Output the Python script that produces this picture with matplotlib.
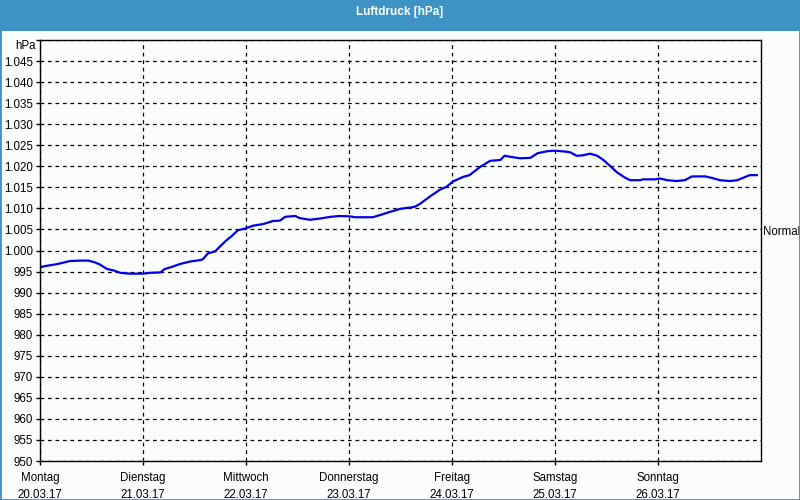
import matplotlib
matplotlib.use("Agg")
import matplotlib.pyplot as plt
from matplotlib.patches import Rectangle

# Luftdruck Woche 20.03.17 - 26.03.17, x in Tagen ab Montag 0:00
days = ["Montag", "Dienstag", "Mittwoch", "Donnerstag", "Freitag", "Samstag", "Sonntag"]
dates = ["20.03.17", "21.03.17", "22.03.17", "23.03.17", "24.03.17", "25.03.17", "26.03.17"]

t = [0.00, 0.05, 0.15, 0.19, 0.29, 0.39, 0.47, 0.53, 0.58, 0.65, 0.71, 0.78, 0.87,
     1.00, 1.07, 1.17, 1.21, 1.28, 1.36, 1.46, 1.55, 1.58, 1.63, 1.70, 1.75, 1.80,
     1.86, 1.92, 1.99, 2.07, 2.17, 2.26, 2.33, 2.38, 2.48, 2.52, 2.62, 2.72, 2.82,
     2.91, 3.01, 3.06, 3.23, 3.30, 3.40, 3.50, 3.59, 3.64, 3.69, 3.79, 3.88, 3.95,
     4.01, 4.11, 4.17, 4.27, 4.37, 4.47, 4.51, 4.58, 4.66, 4.76, 4.83, 4.93, 5.00,
     5.10, 5.15, 5.21, 5.27, 5.34, 5.41, 5.47, 5.53, 5.60, 5.68, 5.73, 5.83, 5.85,
     5.97, 6.02, 6.09, 6.18, 6.26, 6.33, 6.46, 6.53, 6.60, 6.70, 6.77, 6.83, 6.89, 6.96]
p = [996.0, 996.3, 996.7, 996.9, 997.5, 997.6, 997.6, 997.2, 996.7, 995.6, 995.3, 994.7, 994.5,
     994.5, 994.7, 994.8, 995.6, 996.1, 996.8, 997.4, 997.7, 997.9, 999.3, 999.8, 1001.0, 1002.2,
     1003.4, 1004.8, 1005.2, 1005.9, 1006.3, 1007.0, 1007.1, 1008.0, 1008.2, 1007.7, 1007.3, 1007.6, 1008.0,
     1008.2, 1008.1, 1007.9, 1007.9, 1008.4, 1009.2, 1009.9, 1010.2, 1010.4, 1011.1, 1012.9, 1014.4, 1015.2,
     1016.4, 1017.5, 1017.9, 1019.8, 1021.3, 1021.5, 1022.5, 1022.2, 1021.9, 1022.0, 1023.1, 1023.6, 1023.7,
     1023.5, 1023.3, 1022.5, 1022.6, 1023.0, 1022.5, 1021.5, 1020.2, 1018.6, 1017.3, 1016.7, 1016.7, 1016.9,
     1016.9, 1017.1, 1016.7, 1016.5, 1016.7, 1017.6, 1017.6, 1017.2, 1016.7, 1016.5, 1016.7, 1017.3, 1017.9, 1017.9]

yticks = list(range(950, 1050, 5))
normal = 1005

bar_blue = "#3c93c4"
bg = "#fafdfb"

plt.rcParams["font.family"] = "Liberation Sans"
fig = plt.figure(figsize=(8, 5), dpi=100, facecolor=bg)

# Titelleiste und Rahmen
fig.patches.append(Rectangle((0, 1 - 31 / 500), 1, 31 / 500, transform=fig.transFigure,
                             facecolor=bar_blue, edgecolor="none", zorder=0))
fig.patches.append(Rectangle((0, 0), 1, 1, transform=fig.transFigure, fill=False,
                             edgecolor=bar_blue, linewidth=2, zorder=0))
fig.text(0.5, 1 - 12 / 500, "Luftdruck [hPa]", color="white", fontsize=8.5,
         fontweight="bold", ha="center", va="center")

ax = fig.add_axes([40 / 800, 39 / 500, 721 / 800, 421 / 500])
ax.set_facecolor(bg)
ax.plot(t, p, color="#0000ee", linewidth=1.6)

ax.set_xlim(0, 7)
ax.set_ylim(950, 1050)
ax.set_xticks(range(7))
ax.set_xticklabels([d + "\n" + s for d, s in zip(days, dates)], fontsize=8.3, linespacing=1.5)
ax.set_yticks(yticks + [1050])
ax.set_yticklabels(["%d" % v if v < 1000 else "1.%03d" % (v - 1000) for v in yticks] + [""],
                   fontsize=8.3)
ax.tick_params(axis="both", direction="out", length=3, width=1, color="black", pad=2)
ax.tick_params(axis="x", pad=5)
ax.grid(True, color="black", linestyle=(0, (3, 3)), linewidth=0.9)
for s in ax.spines.values():
    s.set_color("black")
    s.set_linewidth(1)

ax.annotate("hPa", xy=(0, 1048.5), xytext=(-3, 0), textcoords="offset points",
            fontsize=8.3, ha="right", va="center", annotation_clip=False)
ax.annotate("Normal", xy=(7, normal), xytext=(1.5, -2), textcoords="offset points",
            fontsize=8.3, ha="left", va="center", annotation_clip=False)

fig.savefig("out.png", dpi=100, facecolor=bg)
